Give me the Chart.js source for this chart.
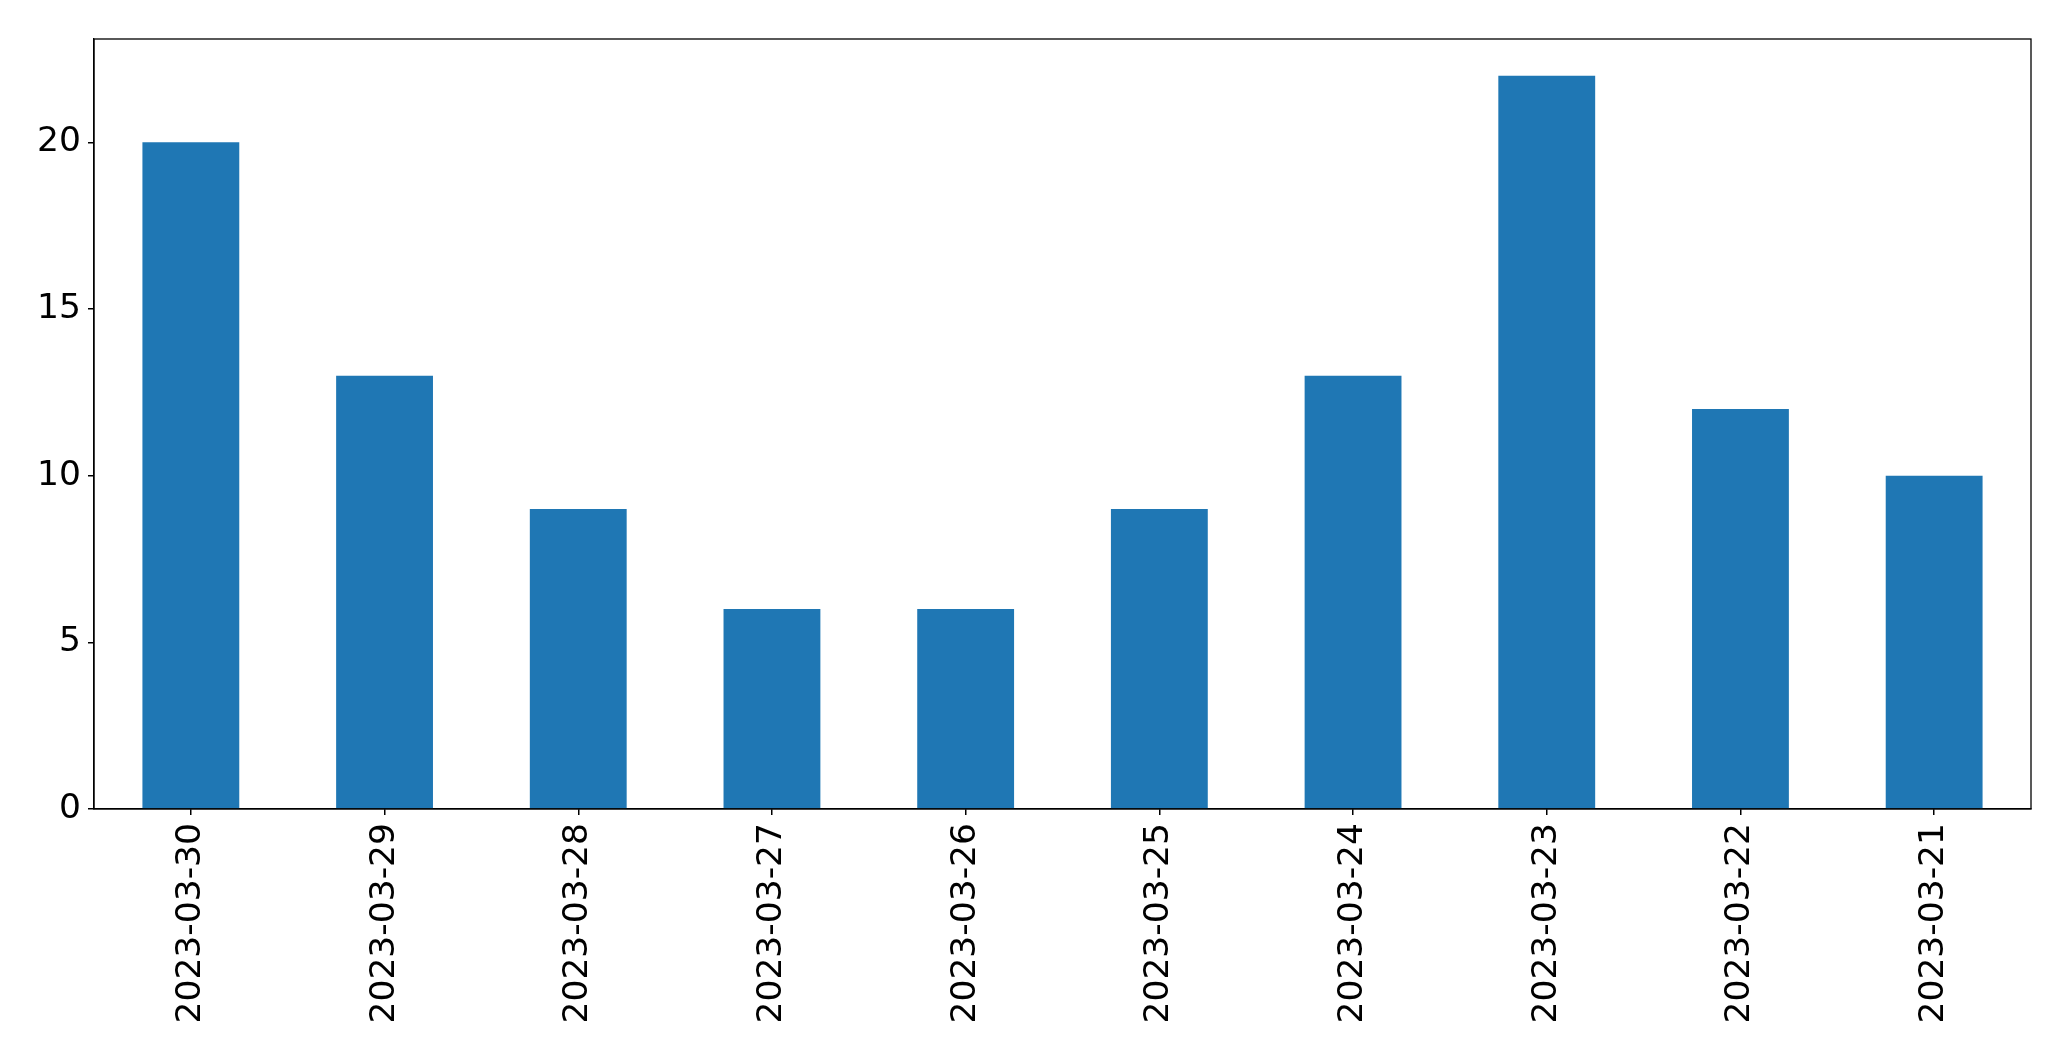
<!DOCTYPE html>
<html>
<head>
<meta charset="utf-8">
<script src="https://cdn.jsdelivr.net/npm/chart.js@4/dist/chart.umd.min.js"></script>
<style>
  html, body { margin: 0; padding: 0; background: #fff; }
  #wrap { width: 2071px; height: 1061px; position: relative; }
</style>
</head>
<body>
<div id="wrap"><canvas id="chart"></canvas></div>
<script>
  var dates  = ['2023-03-30','2023-03-29','2023-03-28','2023-03-27','2023-03-26','2023-03-25','2023-03-24','2023-03-23','2023-03-22','2023-03-21']
  var counts = [20, 13, 9, 6, 6, 9, 13, 22, 12, 10]
  var yTicks = [0, 5, 10, 15, 20]

  var font = { family: 'DejaVu Sans', size: 34.5 }

  // matplotlib-style box around the plot area
  var boxPlugin = {
    id: 'box',
    afterDraw: function(chart){
      var a = chart.chartArea, c = chart.ctx
      c.save()
      c.strokeStyle = '#000'
      c.lineWidth = 1.3
      c.strokeRect(a.left, a.top, a.right - a.left, a.bottom - a.top)
      c.restore()
    }
  }

  new Chart(document.getElementById('chart'), {
    type: 'bar',
    data: {
      labels: dates,
      datasets: [{
        data: counts,
        backgroundColor: '#1f77b4',
        borderWidth: 0,
        barPercentage: 0.5,
        categoryPercentage: 1.0
      }]
    },
    options: {
      responsive: true,
      maintainAspectRatio: false,
      animation: false,
      layout: { padding: { top: 39, right: 40, left: 0, bottom: 0 } },
      plugins: { legend: { display: false }, tooltip: { enabled: false } },
      scales: {
        x: {
          offset: true,
          grid: { offset: false, drawOnChartArea: false, drawTicks: true, tickLength: 6, color: '#000', lineWidth: 1.5 },
          border: { display: true, color: '#000', width: 1.3 },
          ticks: { color: '#000', font: font, minRotation: 90, maxRotation: 90, padding: 8, autoSkip: false },
          afterFit: function(s){ s.height = 252 }
        },
        y: {
          min: 0,
          max: 23.1,
          grid: { drawOnChartArea: false, drawTicks: true, tickLength: 6, color: '#000', lineWidth: 1.5 },
          border: { display: true, color: '#000', width: 1.3 },
          afterBuildTicks: function(s){ s.ticks = yTicks.map(function(v){ return { value: v } }) },
          ticks: { color: '#000', font: font, padding: 7 },
          afterFit: function(s){ s.width = 94 }
        }
      }
    },
    plugins: [boxPlugin]
  })
</script>
</body>
</html>
